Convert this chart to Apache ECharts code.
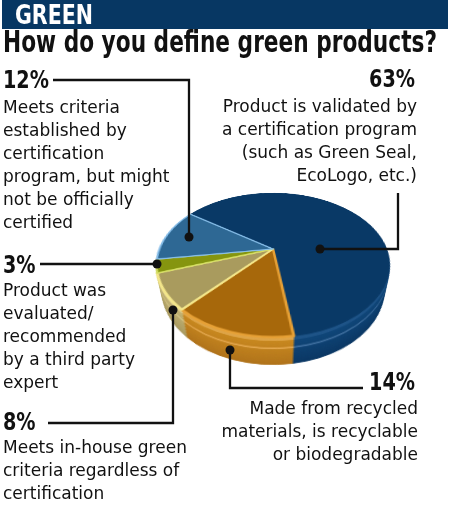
<!DOCTYPE html>
<html><head><meta charset="utf-8">
<script src="https://cdn.jsdelivr.net/npm/echarts@6/dist/echarts.min.js"></script>
<style>
html,body{margin:0;padding:0;background:#fff;width:450px;height:509px;overflow:hidden;}
.layer{position:absolute;left:123px;top:99px;width:300px;height:300px;transform-origin:150px 150px;}
#main{position:absolute;left:0;top:0;width:450px;height:509px;}
</style></head><body>
<div id="pie"></div>
<div id="main"></div>
<script>
// ---------- data ----------
const header = 'GREEN';
const title = 'How do you define green products?';
const categories = [
  'Product is validated by a certification program (such as Green Seal, EcoLogo, etc.)',
  'Made from recycled materials, is recyclable or biodegradable',
  'Meets in-house green criteria regardless of certification',
  'Product was evaluated/recommended by a third party expert',
  'Meets criteria established by certification program, but might not be officially certified'
];
const values = [63, 14, 8, 3, 12];
const percentLabels = ['63%', '14%', '8%', '3%', '12%'];
const descLines = [
  ['Product is validated by', 'a certification program', '(such as Green Seal,', 'EcoLogo, etc.)'],
  ['Made from recycled', 'materials, is recyclable', 'or biodegradable'],
  ['Meets in-house green', 'criteria regardless of', 'certification'],
  ['Product was', 'evaluated/', 'recommended', 'by a third party', 'expert'],
  ['Meets criteria', 'established by', 'certification', 'program, but might', 'not be officially', 'certified']
];

// ---------- styles ----------
const topColors    = ['#093966', '#a7680b', '#a99b5e', '#85950f', '#2e6894'];
const borderColors = ['#093966', '#e6a035', '#f3e68a', '#d3dd62', '#86bde8'];
const borderWidths = [1, 2.5, 2.5, 2, 2];
const sideColors   = ['#0f4679', '#c8881f', '#c3b374', '#9bac25', '#3b7aa8'];
const sideDark     = ['#0a3764', '#b0731a', '#a99a60', '#85951c', '#2d6794'];
const rimLight     = ['#1d5387', '#dea447', '#ddcf90', '#b7c548', '#5a94c3'];
const shineColors  = ['#3f6f9f', '#e2a64c', '#d8ca8c', '#b3c146', '#6aa0cc'];

// layout (label block anchors: [x, percentBaseline, align, firstBodyBaseline, bodyX])
const labelLayout = [
  [415, 89.5, 'right', 113.5, 417],
  [415, 392, 'right', 415, 418],
  [3, 432, 'left', 454, 3],
  [3, 275, 'left', 297.7, 3],
  [3, 90.5, 'left', 114, 3]
];
const leaders = [
  [[320, 249], [398, 249], [398, 193]],
  [[230, 350], [230, 388], [363, 388]],
  [[173, 310], [173, 423], [48, 423]],
  [[157, 264], [40, 264]],
  [[189, 237], [189, 80], [53, 80]]
];

const FONT = '"DejaVu Sans", Verdana, sans-serif';
const MID = 0.346; // em offset between middle and alphabetic baseline

function hex2rgb(h){return [1,3,5].map(i=>parseInt(h.substr(i,2),16));}
function mix(a,b,t){const A=hex2rgb(a),B=hex2rgb(b);return 'rgb('+A.map((v,i)=>Math.round(v+(B[i]-v)*t)).join(',')+')';}

// ---------- pie (3D via stacked layers) ----------
const pieHost = document.getElementById('pie');
const DEPTH = 34, STEP = 2;
function addLayer(depth, colors, bColors, bWidths) {
  const d = document.createElement('div');
  d.className = 'layer';
  d.style.transform = 'perspective(408px) rotateX(52.95deg) translateZ(' + (-depth) + 'px)';
  pieHost.appendChild(d);
  const c = echarts.init(d, null, {renderer: 'canvas'});
  c.setOption({
    backgroundColor: 'transparent',
    animation: false,
    series: [{
      type: 'pie',
      radius: 113.6,
      center: ['50%', '50%'],
      startAngle: 145,
      clockwise: true,
      silent: true,
      label: {show: false},
      labelLine: {show: false},
      emphasis: {disabled: true},
      data: values.map((v, i) => ({
        name: categories[i],
        value: v,
        itemStyle: {color: colors[i], borderColor: bColors[i], borderWidth: bWidths[i], borderJoin: 'round'}
      }))
    }]
  });
}
for (let depth = DEPTH; depth >= STEP; depth -= STEP) {
  let cols;
  if (depth <= 4) cols = rimLight.slice();
  else if (depth === 14) cols = shineColors.slice();
  else cols = values.map((_, i) => mix(sideColors[i], sideDark[i], (depth - 4) / (DEPTH - 4)));
  addLayer(depth, cols, cols, values.map(() => 1));
}
addLayer(0, topColors, borderColors, borderWidths);

// ---------- texts & annotations ----------
const mctx = document.createElement('canvas').getContext('2d');
function measure(str, font){mctx.font = font; return mctx.measureText(str).width;}

function textEl(x, baseline, str, fs, weight, align, sx, fill, z) {
  return {
    type: 'text', x: x, y: baseline - MID * fs, scaleX: sx || 1, z: z || 10,
    style: {text: str, font: weight + ' ' + fs + 'px ' + FONT, fill: fill || '#111',
            align: align, textAlign: align, verticalAlign: 'middle', textVerticalAlign: 'middle'}
  };
}
function fitText(x, baseline, str, fs, weight, align, target, fill) {
  const w = measure(str, weight + ' ' + fs + 'px ' + FONT);
  return textEl(x, baseline, str, fs, weight, align, target / w, fill);
}

const els = [];
els.push({type: 'rect', shape: {x: 2, y: 0, width: 446, height: 29}, style: {fill: '#073763'}, z: 5});
els.push(fitText(15, 26, header, 26, 'bold', 'left', 78, '#ffffff'));
els.push(fitText(3, 55, title, 30, 'bold', 'left', 434, '#111111'));

const PCT_FS = 24, PCT_SX = 0.8, BODY_FS = 17, LH = 23;
values.forEach((v, i) => {
  const L = labelLayout[i];
  els.push(textEl(L[0], L[1], percentLabels[i], PCT_FS, 'bold', L[2], PCT_SX, '#111'));
  els.push({
    type: 'text', x: L[4], y: L[3] - MID * BODY_FS - LH / 2, z: 10,
    style: {text: descLines[i].join('\n'), font: 'normal ' + BODY_FS + 'px ' + FONT, fill: '#111',
            lineHeight: LH, align: L[2], textAlign: L[2], verticalAlign: 'top', textVerticalAlign: 'top'}
  });
  const pts = leaders[i];
  els.push({type: 'polyline', shape: {points: pts}, style: {stroke: '#111', lineWidth: 2.3, fill: null}, z: 12});
  els.push({type: 'circle', shape: {cx: pts[0][0], cy: pts[0][1], r: 4.5}, style: {fill: '#111'}, z: 13});
});

const main = echarts.init(document.getElementById('main'), null, {renderer: 'canvas'});
main.setOption({backgroundColor: 'transparent', animation: false, graphic: {elements: els}});
</script>
</body></html>
